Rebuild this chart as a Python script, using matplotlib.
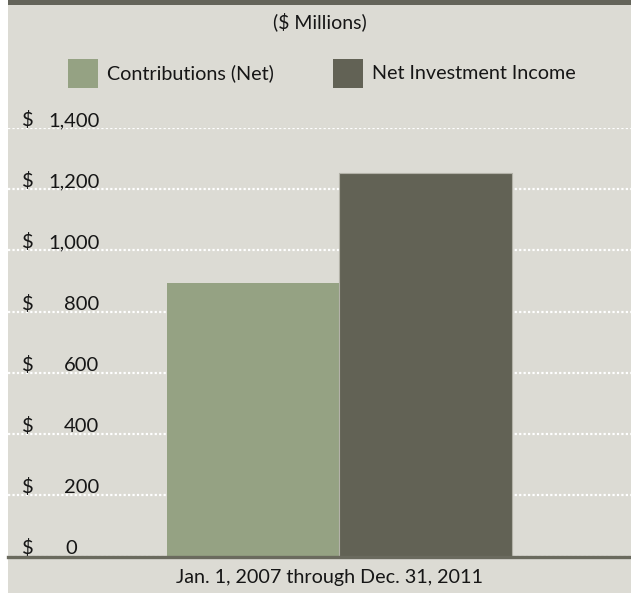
import matplotlib
matplotlib.use('Agg')
import matplotlib.pyplot as plt
from matplotlib.patches import Rectangle
from matplotlib.transforms import blended_transform_factory

plt.rcParams['font.family'] = ['Lato', 'DejaVu Sans']

series = ['Contributions (Net)', 'Net Investment Income']
values = [893, 1254]
colors = ['#95a283', '#626255']
yticks = [0, 200, 400, 600, 800, 1000, 1200, 1400]
ytick_labels = ['0', '200', '400', '600', '800', '1,000', '1,200', '1,400']
title = '($ Millions)'
period = 'Jan. 1, 2007 through Dec. 31, 2011'

BG = '#dcdbd4'
DARK = '#64645a'
INK = '#161616'
W, H = 631, 593

fig = plt.figure(figsize=(W / 100, H / 100), dpi=100)
fig.patch.set_facecolor('white')


def px(x, y):
    # pixel coords (from top-left) to figure fraction
    return x / W, 1 - y / H


# panel background and the dark band on top
left = 8 / W
fig.add_artist(Rectangle((left, 0), 1 - left, 1, transform=fig.transFigure,
                         facecolor=BG, edgecolor='none', zorder=0))
fig.add_artist(Rectangle((left, 1 - 4.5 / H), 1 - left, 4.5 / H,
                         transform=fig.transFigure, facecolor=DARK,
                         edgecolor='none', zorder=1))

y0, y1 = 556.5, 128
ax = fig.add_axes([left, (H - y0) / H, 1 - left, (y0 - y1) / H])
ax.set_facecolor('none')
ax.set_ylim(0, 1400)
ax.set_xlim(-1.424, 2.192)

edges = ['none', '#b3b2a8']
for i, (v, c) in enumerate(zip(values, colors)):
    ax.bar(i, v, width=1.0, color=c, edgecolor=edges[i], linewidth=0.8,
           zorder=3, clip_on=False)

ax.set_yticks(yticks)
ax.set_xticks([])
ax.tick_params(axis='y', length=0, labelleft=False)
ax.grid(axis='y', color='white', linestyle=(0, (1.0, 1.0)), linewidth=1.6, zorder=1)
ax.set_axisbelow(True)
for s in ax.spines.values():
    s.set_visible(False)
ax.axhline(0, color='#6a6a5e', linewidth=2.4, zorder=4, clip_on=False)

# dollar-sign tick labels sitting on the grid lines
tr = blended_transform_factory(ax.transAxes, ax.transData)
for v, lab in zip(yticks, ytick_labels):
    ax.annotate('$', xy=(14 / 623, v), xycoords=tr, xytext=(0, 1.5),
                textcoords='offset points', ha='left', va='baseline',
                fontsize=14.5, color=INK)
    xr = 91.5 / 623 if v > 0 else 69.5 / 623
    ax.annotate(lab, xy=(xr, v), xycoords=tr, xytext=(0, 1.5),
                textcoords='offset points', ha='right', va='baseline',
                fontsize=14.5, color=INK)

fig.text(*px(320, 22), title, ha='center', va='center', fontsize=14, color=INK)
fig.text(*px(330, 577), period, ha='center', va='center', fontsize=14.2, color=INK)

# legend: swatch + label
swatch_x = [68, 333]
for x, lab, c in zip(swatch_x, series, colors):
    fig.add_artist(Rectangle(px(x, 88), 30 / W, 29 / H, transform=fig.transFigure,
                             facecolor=c, edgecolor='none', zorder=2))
    fig.text(*px(x + 39, 73.5), lab, ha='left', va='center', fontsize=14.2, color=INK)

fig.savefig('out.png', dpi=100, facecolor=fig.get_facecolor())
